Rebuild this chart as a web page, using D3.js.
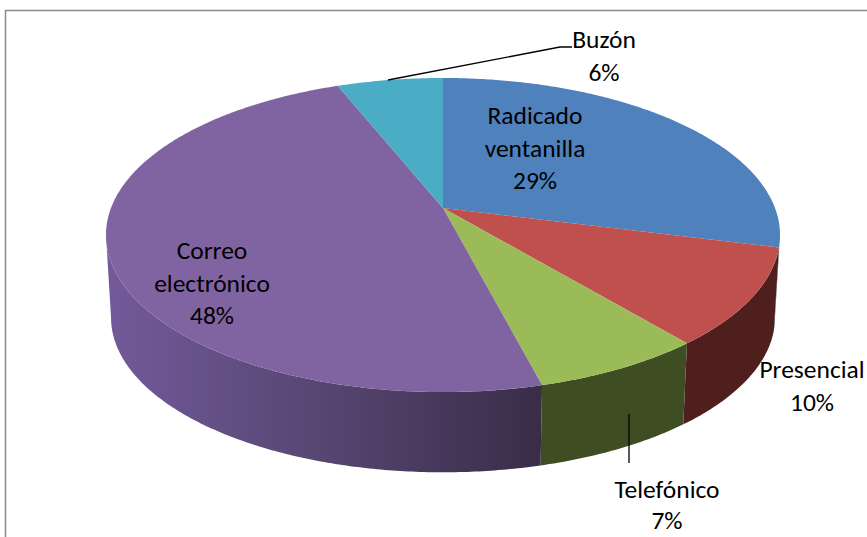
<!DOCTYPE html>
<html>
<head>
<meta charset="utf-8">
<script src="https://cdn.jsdelivr.net/npm/d3@7"></script>
<style>
  body { margin: 0; background: #fff; }
  text { font-family: Carlito, Calibri, Lato, sans-serif; font-size: 25.5px; fill: #000; }
</style>
</head>
<body>
<div id="chart"></div>
<script>
// data
const categories = ['Radicado ventanilla', 'Presencial', 'Telefónico', 'Correo electrónico', 'Buzón'];
const values = [29, 10, 7, 48, 6];
const topColors = ['#4F81BD', '#C0504D', '#9BBB59', '#8064A2', '#4BACC6'];

class pie3d {

  constructor(opts) {
    this.element = opts.element;
    this.width = 867;
    this.height = 537;
    this.draw();
  }

  draw() {
    const svg = d3.select(this.element).append('svg')
      .attr('width', this.width)
      .attr('height', this.height);
    this.svg = svg;
    this.defs = svg.append('defs');

    // chart area border (runs off the right and bottom)
    svg.append('rect')
      .attr('x', 5.5).attr('y', 10.5)
      .attr('width', 900).attr('height', 600)
      .attr('fill', 'none')
      .attr('stroke', '#8a8a8a')
      .attr('stroke-width', 1.5);

    // projection settings of the tilted disc
    this.cx = 443;
    this.cy = 208;
    this.rx = 332;     // horizontal radius
    this.ry = 152.4;   // vertical radius
    this.k = 0.172;    // perspective strength
    this.depth = 83;
    this.shrink = 0.985;

    this.slices = d3.pie().sort(null).value(d => d.value)
      .startAngle(0).endAngle(2 * Math.PI)(
        categories.map((c, i) => ({ name: c, value: values[i], color: topColors[i] }))
      );

    this.addSides();
    this.addTops();
    this.addLabels();
  }

  proj(phi, r, level) {
    const f = level ? this.shrink : 1;
    const cy = this.cy + (level ? this.depth : 0);
    const w = 1 + this.k * r * Math.cos(phi);
    return [
      this.cx + this.rx * f * r * Math.sin(phi) / w,
      cy - this.ry * f * r * Math.cos(phi) / w
    ];
  }

  addSides() {
    // front-facing part of the rim
    const lo = Math.acos(-this.k);
    const hi = 2 * Math.PI - lo;

    const grad = this.defs.append('linearGradient')
      .attr('id', 'sideGrad')
      .attr('gradientUnits', 'userSpaceOnUse')
      .attr('x1', 106).attr('x2', 565).attr('y1', 0).attr('y2', 0);
    grad.append('stop').attr('offset', 0).attr('stop-color', '#735A9B');
    grad.append('stop').attr('offset', 0.5).attr('stop-color', '#55446F');
    grad.append('stop').attr('offset', 1).attr('stop-color', '#362A43');

    const sideFill = {
      'Radicado ventanilla': '#2E4B70',
      'Presencial': '#4F1F1E',
      'Telefónico': '#3E4D22',
      'Correo electrónico': 'url(#sideGrad)',
      'Buzón': '#2C6675'
    };

    const line = d3.line();

    this.slices.forEach(d => {
      const a0 = Math.max(d.startAngle, lo);
      const a1 = Math.min(d.endAngle, hi);
      if (a1 <= a0) return;
      const steps = d3.range(a0, a1, 0.01).concat([a1]);
      const topPts = steps.map(a => this.proj(a, 1, 0));
      const botPts = steps.slice().reverse().map(a => this.proj(a, 1, 1));
      this.svg.append('path')
        .attr('class', 'side')
        .attr('d', line(topPts.concat(botPts)) + 'Z')
        .attr('fill', sideFill[d.data.name]);
    });
  }

  addTops() {
    const line = d3.line();
    this.svg.selectAll('.top')
      .data(this.slices)
      .enter().append('path')
        .attr('class', 'top')
        .attr('fill', d => d.data.color)
        .attr('d', d => {
          const steps = d3.range(d.startAngle, d.endAngle, 0.01).concat([d.endAngle]);
          const pts = [[this.cx, this.cy]].concat(steps.map(a => this.proj(a, 1, 0)));
          return line(pts) + 'Z';
        });
  }

  addLabels() {
    // label anchors (baseline of the first line) and leader lines
    const layout = {
      'Radicado ventanilla': { x: 535, y: 124, lines: ['Radicado', 'ventanilla'] },
      'Presencial': { x: 812, y: 378, lines: ['Presencial'] },
      'Telefónico': { x: 667, y: 498, lines: ['Telefónico'] },
      'Correo electrónico': { x: 212, y: 259, lines: ['Correo', 'electrónico'] },
      'Buzón': { x: 604, y: 48, lines: ['Buzón'] }
    };
    const leaders = {
      'Buzón': [[388, 80], [560, 47], [572, 47]],
      'Telefónico': [[629, 414], [629, 463]]
    };
    const fmt = d3.format('.0%');
    const total = d3.sum(values);

    this.slices.forEach(d => {
      const L = layout[d.data.name];
      const rows = L.lines.concat([fmt(d.data.value / total)]);
      const t = this.svg.append('text')
        .attr('x', L.x).attr('y', L.y)
        .attr('text-anchor', 'middle');
      rows.forEach((r, i) => {
        t.append('tspan')
          .attr('x', L.x)
          .attr('dy', i === 0 ? 0 : (d.data.name === 'Telefónico' ? 31 : 32.5))
          .text(r);
      });
      if (leaders[d.data.name]) {
        this.svg.append('path')
          .attr('d', d3.line()(leaders[d.data.name]))
          .attr('fill', 'none')
          .attr('stroke', '#000')
          .attr('stroke-width', 1.3);
      }
    });
  }
}

new pie3d({ element: document.getElementById('chart') });
</script>
</body>
</html>
